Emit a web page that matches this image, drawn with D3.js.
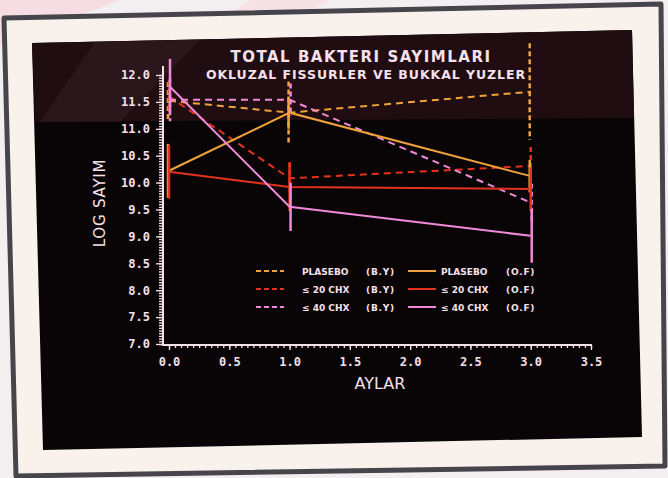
<!DOCTYPE html>
<html>
<head>
<meta charset="utf-8">
<script src="https://cdn.jsdelivr.net/npm/d3@7"></script>
<style>
  body { margin: 0; background: #f3eef0; }
  svg { display: block; }
</style>
</head>
<body>
<svg id="chart" width="668" height="478"></svg>
<script>
// months on the x axis
const months = [0, 1, 3];

// group / surface labels used in the legend
const groupNames = ["PLASEBO", "\u2264 20 CHX", "\u2264 40 CHX"];
const surfaceNames = ["(B.Y)", "(O.F)"];

// log counts, B.Y (dashed)
const plaseboBY = [11.52, 11.30, 11.69];
const chx20BY = [11.60, 10.08, 10.31];
const chx40BY = [11.54, 11.54, 9.63];
// log counts, O.F (solid)
const plaseboOF = [10.22, 11.30, 10.12];
const chx20OF = [10.20, 9.92, 9.88];
const chx40OF = [11.80, 9.55, 9.01];

// error bar half lengths
const plaseboBYErr = [0.35, 0.58, 0.90];
const chx20BYErr = [0.30, 0.30, 0.35];
const chx40BYErr = [0.40, 0.30, 0.35];
const plaseboOFErr = [0.50, 0.30, 0.30];
const chx20OFErr = [0.50, 0.45, 0.40];
const chx40OFErr = [0.50, 0.45, 0.50];

const yTicks = d3.range(7, 12.01, 0.5);
const xTicks = d3.range(0, 3.51, 0.5);

const colors = ["#f0a23c", "#e4321c", "#f08ad8"];
const series = [
  { g: 0, s: 0, v: plaseboBY, e: plaseboBYErr, dash: true },
  { g: 1, s: 0, v: chx20BY, e: chx20BYErr, dash: true },
  { g: 2, s: 0, v: chx40BY, e: chx40BYErr, dash: true },
  { g: 0, s: 1, v: plaseboOF, e: plaseboOFErr, dash: false },
  { g: 1, s: 1, v: chx20OF, e: chx20OFErr, dash: false },
  { g: 2, s: 1, v: chx40OF, e: chx40OFErr, dash: false }
];

const ink = "#f6e0ea";
const svg = d3.select("#chart");

// ---- photo of the monitor: frame, bezel, screen ----
svg.append("polygon").attr("points", "0,0 120,0 40,30 0,46").attr("fill", "#f5dde3");
svg.append("polygon").attr("points", "250,0 330,0 250,40 190,40").attr("fill", "#f6e2e6");
svg.append("polygon")
  .attr("points", "4,18 661,4 665,466 16,476")
  .attr("fill", "#f9f2ec")
  .attr("stroke", "#45454b").attr("stroke-width", 5).attr("stroke-linejoin", "round");
svg.append("polygon")
  .attr("points", "32,43 632,30 642,437 43,450")
  .attr("fill", "#090506");
svg.append("polygon")
  .attr("points", "32,43 632,30 634,118 35,122")
  .attr("fill", "#200d11");
svg.append("polygon")
  .attr("points", "95,42 200,40 120,122 40,122")
  .attr("fill", "#3a2228").attr("opacity", 0.45);

// ---- scales ----
const x = d3.scaleLinear().domain([0, 3.5]).range([169, 591]);
const y = d3.scaleLinear().domain([7, 12]).range([344, 75]);
const axisX0 = 163;

// y axis
const yAxis = svg.append("g").attr("transform", `translate(${axisX0},0)`);
yAxis.call(d3.axisLeft(y).tickValues(d3.range(7, 12.001, 0.05)).tickSize(4).tickFormat(""));
yAxis.append("g").call(d3.axisLeft(y).tickValues(yTicks).tickSize(7).tickFormat(d3.format(".1f")).tickPadding(6));
yAxis.selectAll(".domain").remove();
yAxis.selectAll("line").attr("stroke", ink).attr("stroke-width", 1.3);
yAxis.selectAll("text")
  .attr("fill", ink)
  .style("font-family", "DejaVu Sans Mono")
  .style("font-weight", "bold")
  .style("font-size", "12px");
svg.append("line")
  .attr("x1", axisX0).attr("x2", axisX0).attr("y1", 346).attr("y2", 66)
  .attr("stroke", ink).attr("stroke-width", 2);

// x axis
const xAxis = svg.append("g").attr("transform", "translate(0,345)");
xAxis.call(d3.axisBottom(x).tickValues(d3.range(0, 3.501, 0.05)).tickSize(3).tickFormat(""));
xAxis.append("g").call(d3.axisBottom(x).tickValues(xTicks).tickSize(5).tickFormat(d3.format(".1f")).tickPadding(7));
xAxis.selectAll(".domain").remove();
xAxis.selectAll("line").attr("stroke", ink).attr("stroke-width", 1.3);
xAxis.selectAll("text")
  .attr("fill", ink)
  .style("font-family", "DejaVu Sans Mono")
  .style("font-weight", "bold")
  .style("font-size", "12px");
svg.append("line")
  .attr("x1", axisX0).attr("x2", 592).attr("y1", 345).attr("y2", 345)
  .attr("stroke", ink).attr("stroke-width", 2);

// titles
svg.append("text").attr("x", 361).attr("y", 62).attr("text-anchor", "middle")
  .attr("fill", ink).style("font-family", "DejaVu Sans").style("font-weight", "bold").style("font-size", "15px")
  .style("letter-spacing", "1.5px").text("TOTAL BAKTERI SAYIMLARI");
svg.append("text").attr("x", 366).attr("y", 79).attr("text-anchor", "middle")
  .attr("fill", ink).style("font-family", "DejaVu Sans").style("font-weight", "bold").style("font-size", "12.5px")
  .style("letter-spacing", "0.95px").text("OKLUZAL FISSURLER VE BUKKAL YUZLER");
svg.append("text").attr("x", 380).attr("y", 389).attr("text-anchor", "middle")
  .attr("fill", ink).style("font-family", "DejaVu Sans").style("font-size", "16px").text("AYLAR");
svg.append("text").attr("transform", "translate(105,203) rotate(-90)").attr("text-anchor", "middle")
  .attr("fill", ink).style("font-family", "DejaVu Sans").style("font-size", "15px")
  .style("letter-spacing", "0.8px").text("LOG SAYIM");

// ---- data lines and error bars ----
const line = d3.line().x((d, i) => x(months[i])).y(d => y(d));
const plot = svg.append("g");

series.forEach(sr => {
  const col = colors[sr.g];
  plot.append("path")
    .attr("d", line(sr.v))
    .attr("fill", "none")
    .attr("stroke", col)
    .attr("stroke-width", 2)
    .attr("stroke-dasharray", sr.dash ? "7,5" : null);
  plot.selectAll(null)
    .data(sr.v)
    .enter()
    .append("line")
    .attr("x1", (d, i) => x(months[i]) - 1 + sr.g)
    .attr("x2", (d, i) => x(months[i]) - 1 + sr.g)
    .attr("y1", (d, i) => y(d + sr.e[i]))
    .attr("y2", (d, i) => y(d - sr.e[i]))
    .attr("stroke", col)
    .attr("stroke-width", 2.5)
    .attr("stroke-dasharray", sr.dash ? "5,3" : null);
});

// ---- legend ----
const legend = svg.append("g");
series.forEach(sr => {
  const col = colors[sr.g];
  const ly = 271 + sr.g * 18;
  const lx = sr.s === 0 ? 256 : 408;
  legend.append("line")
    .attr("x1", lx).attr("x2", lx + 28).attr("y1", ly).attr("y2", ly)
    .attr("stroke", col).attr("stroke-width", 2)
    .attr("stroke-dasharray", sr.dash ? "5,3" : null);
  legend.append("text")
    .attr("x", sr.s === 0 ? 302 : 441).attr("y", ly + 3.5)
    .attr("fill", ink).style("font-family", "DejaVu Sans").style("font-weight", "bold").style("font-size", "9px")
    .text(groupNames[sr.g]);
  legend.append("text")
    .attr("x", sr.s === 0 ? 366 : 506).attr("y", ly + 3.5)
    .attr("fill", ink).style("font-family", "DejaVu Sans").style("font-weight", "bold").style("font-size", "9px")
    .style("letter-spacing", "0.8px")
    .text(surfaceNames[sr.s]);
});
</script>
</body>
</html>
